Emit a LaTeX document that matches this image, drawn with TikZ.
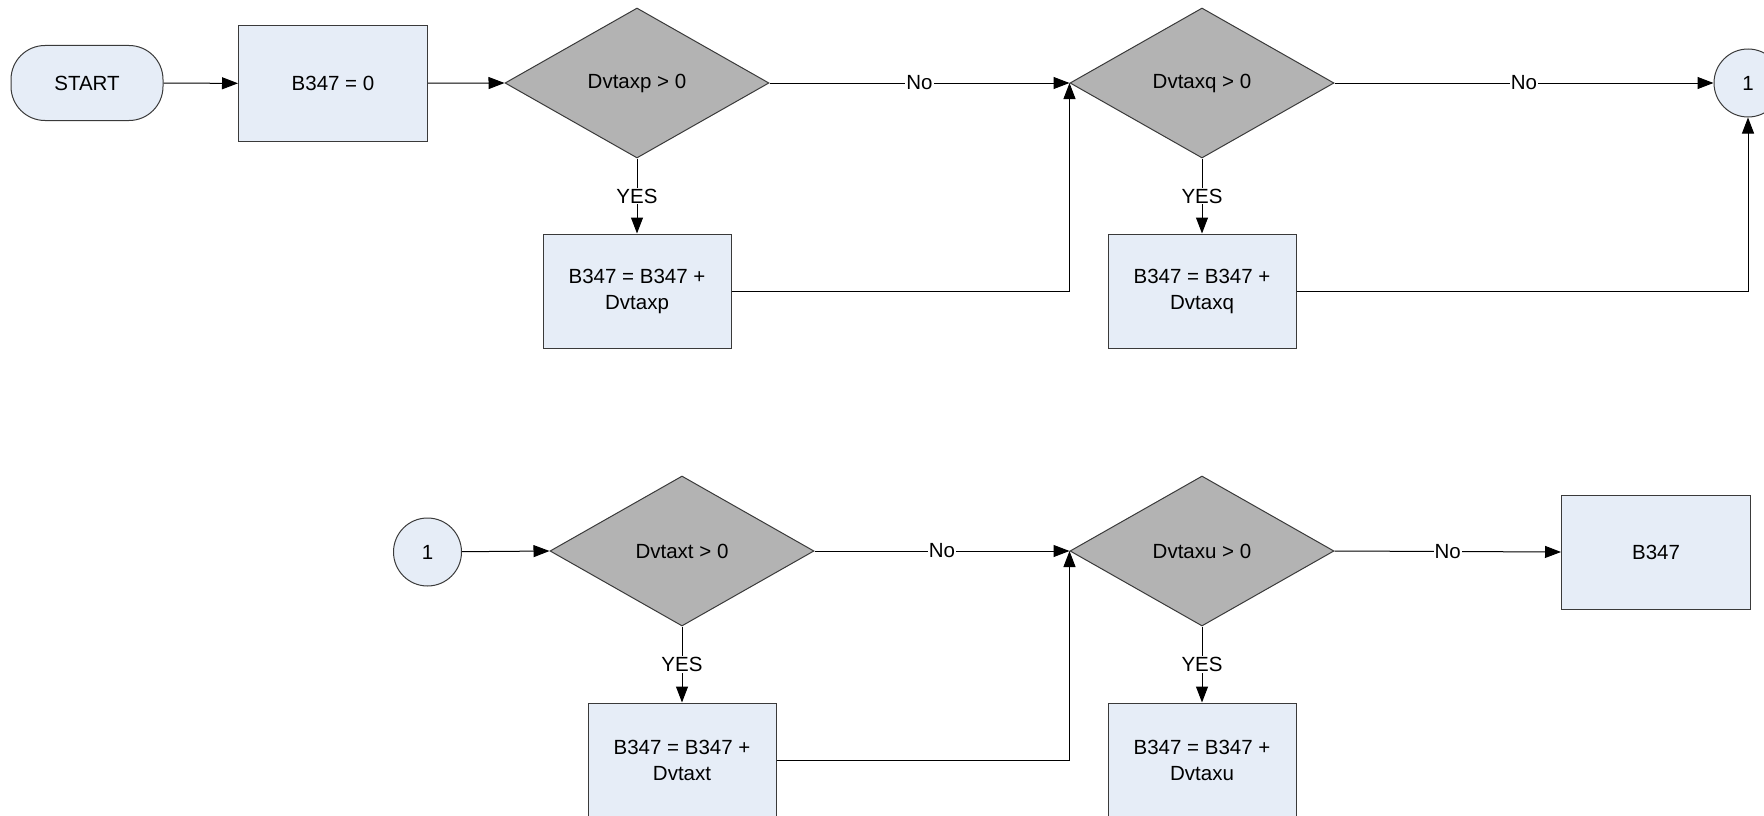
\documentclass[tikz,border=0pt]{standalone}
\usepackage{fontspec}
\setmainfont{Liberation Sans}
\usetikzlibrary{shapes.geometric,arrows.meta}
\definecolor{boxfill}{HTML}{E6EDF7}
\definecolor{decfill}{HTML}{B3B3B3}
\definecolor{edge}{HTML}{3A3A3A}
\tikzset{
  every node/.style={font=\fontsize{20.5}{26}\selectfont},
  procbox/.style={draw=edge,fill=boxfill,line width=1pt,rectangle,minimum width=188pt,minimum height=114pt,inner sep=0pt,align=center},
  termbox/.style={draw=edge,fill=boxfill,line width=1pt,rectangle,rounded corners=34pt,minimum width=152pt,minimum height=75pt,inner sep=0pt},
  decbox/.style={draw=edge,fill=decfill,line width=1pt,diamond,aspect=1.76,minimum width=264pt,minimum height=150pt,inner sep=0pt},
  connbox/.style={draw=edge,fill=boxfill,line width=1pt,circle,minimum size=68pt,inner sep=0pt},
  flow/.style={draw=black,line width=1pt,-{Triangle[length=16pt,width=12pt]}},
  lbl/.style={fill=white,inner sep=1pt},
}
\begin{document}
\begin{tikzpicture}[x=1pt,y=-1pt]
\useasboundingbox (0,0) rectangle (1764,816);
% top row
\node[termbox] (start) at (87,83) {START};
\node[procbox,minimum width=189pt,minimum height=115pt] (init) at (333,83.5) {B347 = 0};
\node[decbox] (dp) at (637,83) {Dvtaxp > 0};
\node[procbox] (ap) at (637,291) {B347 = B347 +\\Dvtaxp};
\node[decbox] (dq) at (1202,83) {Dvtaxq > 0};
\node[procbox] (aq) at (1202,291) {B347 = B347 +\\Dvtaxq};
\node[connbox] (c1) at (1748,83) {1};
% bottom row
\node[connbox] (c2) at (427.5,552) {1};
\node[decbox] (dt) at (682,551) {Dvtaxt > 0};
\node[procbox] (at) at (682,760) {B347 = B347 +\\Dvtaxt};
\node[decbox] (du) at (1202,551) {Dvtaxu > 0};
\node[procbox] (au) at (1202,760) {B347 = B347 +\\Dvtaxu};
\node[procbox,minimum width=189pt] (res) at (1656,552) {B347};
% connectors top
\draw[flow] (start) -- (init);
\draw[flow] (init) -- (dp.west);
\draw[flow] (dp.east) -- node[lbl] {No} (dq.west);
\draw[flow] (dp.south) -- node[lbl,pos=0.5] {YES} (ap.north);
\draw[flow] (ap.east) -| (dq.west);
\draw[flow] (dq.east) -- node[lbl] {No} (c1.west);
\draw[flow] (dq.south) -- node[lbl] {YES} (aq.north);
\draw[flow] (aq.east) -| (c1.south);
% connectors bottom
\draw[flow] (c2) -- (dt.west);
\draw[flow] (dt.east) -- node[lbl] {No} (du.west);
\draw[flow] (dt.south) -- node[lbl] {YES} (at.north);
\draw[flow] (at.east) -| (du.west);
\draw[flow] (du.east) -- node[lbl] {No} (res.west);
\draw[flow] (du.south) -- node[lbl] {YES} (au.north);
\end{tikzpicture}
\end{document}
